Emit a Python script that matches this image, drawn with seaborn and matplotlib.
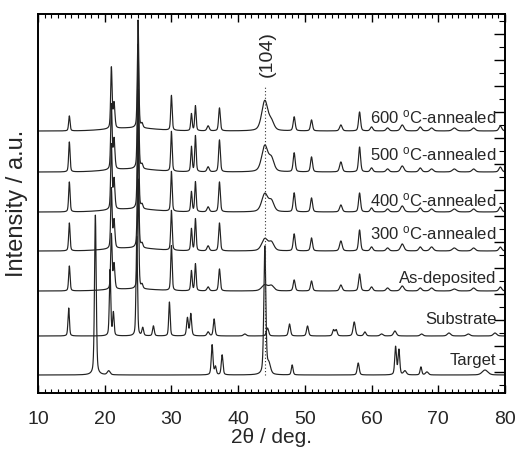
import numpy as np
import pandas as pd
import matplotlib
matplotlib.use("Agg")
import matplotlib.pyplot as plt
from matplotlib.ticker import MultipleLocator, FixedLocator
import seaborn as sns

# ---------------- data ----------------
labels = ["Target", "Substrate", "As-deposited", "300 $^\\mathrm{o}$C-annealed",
          "400 $^\\mathrm{o}$C-annealed", "500 $^\\mathrm{o}$C-annealed",
          "600 $^\\mathrm{o}$C-annealed"]
offsets = [18, 57, 102, 142, 181, 221, 262]

target_pos = [18.6, 20.6, 36.1, 36.6, 37.6, 44.0, 44.6, 48.1, 58.0, 63.6, 64.1, 65.0, 67.4, 68.3, 77.0]
target_h   = [160, 4, 30, 8, 20, 128, 10, 10, 12, 28, 25, 4, 8, 3, 5]
target_w   = [0.3, 0.5, 0.3, 0.3, 0.3, 0.35, 0.6, 0.3, 0.35, 0.3, 0.3, 0.5, 0.3, 0.5, 1.0]

sub_pos = [14.6, 20.8, 21.3, 24.8, 25.7, 27.3, 29.7, 32.4, 32.9, 35.5, 36.4, 41.0, 44.4, 47.7,
           50.4, 54.3, 54.7, 57.4, 59.0, 61.5, 63.5, 67.5, 71.6, 74.5, 78.5]
sub_h   = [28, 66, 23, 100, 8, 10, 34, 18, 22, 4, 17, 2, 8, 12, 10, 6, 6, 14, 4, 2, 5, 2, 3, 2, 3]
sub_w   = [0.25, 0.25, 0.25, 0.25, 0.3, 0.3, 0.25, 0.3, 0.3, 0.4, 0.3, 0.5, 0.4, 0.35,
           0.35, 0.35, 0.35, 0.4, 0.4, 0.5, 0.5, 0.5, 0.6, 0.6, 0.6]

film_pos = [14.7, 21.0, 21.4, 25.0, 25.6, 30.0, 33.0, 33.6, 35.5, 37.2, 44.0, 45.0, 48.4, 51.0,
            55.4, 58.2, 60.0, 62.4, 64.6, 67.3, 69.0, 72.4, 75.3, 79.3]
film_w   = [0.25, 0.25, 0.3, 0.25, 0.3, 0.25, 0.25, 0.25, 0.4, 0.3, 1.1, 0.9, 0.35, 0.35,
            0.45, 0.35, 0.45, 0.5, 0.6, 0.5, 0.6, 0.7, 0.6, 0.5]
asdep_h  = [25, 55, 25, 110, 4, 45, 20, 27, 4, 22, 6, 5, 11, 10, 6, 17, 4, 3, 5, 3, 3, 2, 3, 4]
a300_h   = [28, 60, 28, 120, 4, 40, 22, 32, 5, 28, 12, 8, 17, 13, 10, 21, 4, 3, 7, 4, 4, 3, 3, 4]
a400_h   = [30, 65, 30, 120, 4, 40, 20, 30, 5, 30, 18, 10, 19, 14, 7, 19, 4, 3, 6, 4, 3, 3, 3, 5]
a500_h   = [30, 65, 30, 125, 4, 40, 25, 36, 5, 32, 26, 12, 19, 15, 10, 25, 4, 3, 6, 4, 3, 3, 3, 5]
a600_h   = [15, 61, 25, 108, 4, 35, 17, 25, 5, 23, 30, 8, 14, 11, 6, 19, 4, 3, 6, 4, 3, 3, 3, 5]

xticks = [10, 20, 30, 40, 50, 60, 70, 80]
ref_104 = 44.0

# ---------------- build profiles ----------------
x = np.linspace(10, 80, 4000)

def pattern(pos, h, w, hump=0.0):
    y = np.zeros_like(x)
    for p, a, fw in zip(pos, h, w):
        g = np.exp(-4 * np.log(2) * ((x - p) / fw) ** 2)
        l = 1.0 / (1.0 + 4 * ((x - p) / fw) ** 2)
        y += a * (0.6 * g + 0.4 * l)
    if hump:
        y += hump * np.exp(-((x - 24.0) / 5.0) ** 2)
    return y

series = [
    pattern(target_pos, target_h, target_w),
    pattern(sub_pos, sub_h, sub_w),
    pattern(film_pos, asdep_h, film_w, 2),
    pattern(film_pos, a300_h, film_w, 3),
    pattern(film_pos, a400_h, film_w, 3),
    pattern(film_pos, a500_h, film_w, 3),
    pattern(film_pos, a600_h, film_w, 3),
]

frames = []
for lab, off, y in zip(labels, offsets, series):
    frames.append(pd.DataFrame({"two_theta": x, "intensity": y + off, "sample": lab}))
df = pd.concat(frames, ignore_index=True)

# ---------------- plot ----------------
sns.set_theme(style="white")
plt.rcParams["font.family"] = ["Liberation Sans", "DejaVu Sans"]
plt.rcParams["mathtext.fontset"] = "custom"
plt.rcParams["mathtext.rm"] = "Liberation Sans"
plt.rcParams["mathtext.it"] = "Liberation Sans:italic"

fig = plt.figure(figsize=(5.18, 4.49), dpi=100)
ax = fig.add_axes([38 / 518, 56 / 449, 467 / 518, 379 / 449])

sns.lineplot(data=df, x="two_theta", y="intensity", units="sample", estimator=None,
             color="#222222", linewidth=0.85, ax=ax, legend=False, sort=False)

ax.plot([ref_104, ref_104], [18, 308], linestyle=(0, (1, 2)), color="#333333", linewidth=0.8)
ax.text(ref_104 + 0.4, 339, "(104)", rotation=90, ha="center", va="center", fontsize=14)

label_y = [33, 73, 115, 160, 193, 239, 276]
for lab, ly in zip(labels, label_y):
    ax.text(78.7, ly, lab, ha="right", va="center", fontsize=12)

ax.set_xlim(10, 80)
ax.set_ylim(0, 379)
ax.set_xticks(xticks)
ax.xaxis.set_minor_locator(MultipleLocator(1))
ax.yaxis.set_major_locator(FixedLocator(np.arange(21, 379, 26)))
ax.yaxis.set_minor_locator(FixedLocator(np.arange(8, 379, 26)))
ax.tick_params(axis="x", which="major", direction="in", length=6, width=1, top=True, bottom=True,
               labelsize=14, pad=13, color="black")
ax.tick_params(axis="x", which="minor", direction="in", length=3, width=0.8, top=True, bottom=True,
               color="black")
ax.tick_params(axis="y", which="major", direction="in", length=8, width=1, left=False, right=True,
               labelleft=False, labelright=False, color="black")
ax.tick_params(axis="y", which="minor", direction="in", length=4, width=0.8, left=False, right=True,
               color="black")
for s in ax.spines.values():
    s.set_color("black")
    s.set_linewidth(1.4)

ax.set_xlabel("2\u03b8 / deg.", fontsize=15, labelpad=0)
ax.set_ylabel("Intensity / a.u.", fontsize=17, labelpad=4)

fig.savefig("out.png", dpi=100)
